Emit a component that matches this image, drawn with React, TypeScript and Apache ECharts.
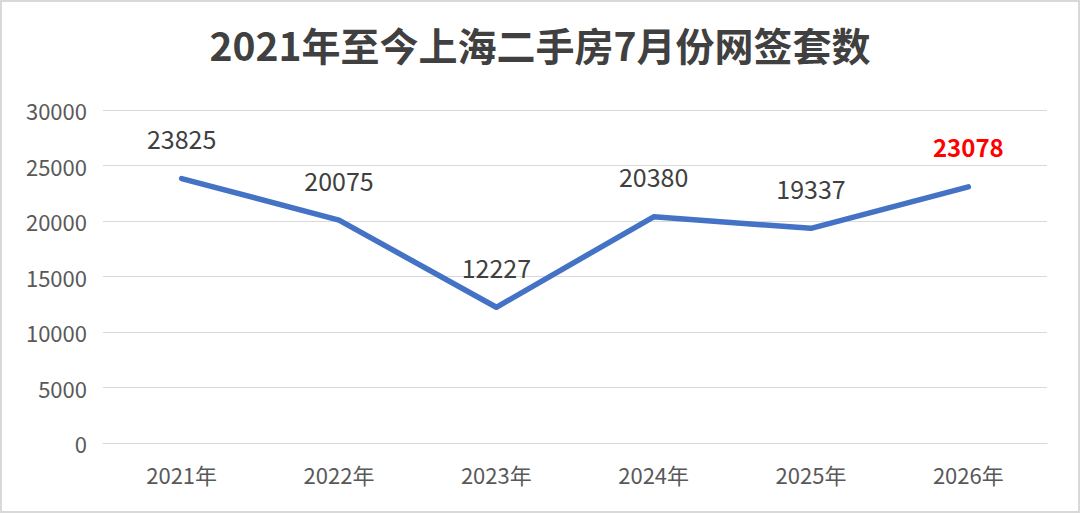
import React, { useEffect, useRef } from "react";
import * as echarts from "echarts";

const title = "2021年至今上海二手房7月份网签套数";
const categories = ["2021年", "2022年", "2023年", "2024年", "2025年", "2026年"];
const values = [23825, 20075, 12227, 20380, 19337, 23078];
const yTicks = { min: 0, max: 30000, interval: 5000 };

const FONT = "'Noto Sans CJK SC', 'Noto Sans', sans-serif";

export default function App() {
  const ref = useRef<HTMLDivElement>(null);
  useEffect(() => {
    document.body.style.margin = "0";
    const chart = echarts.init(ref.current!, null, { renderer: "svg" });
    const lastIdx = values.length - 1;
    chart.setOption({
      animation: false,
      backgroundColor: "#ffffff",
      textStyle: { fontFamily: FONT },
      title: {
        text: title,
        left: "center",
        top: 19,
        textStyle: { fontSize: 39, fontWeight: "bold", color: "#404040", fontFamily: FONT },
      },
      graphic: [
        {
          type: "rect",
          shape: { x: 1, y: 1, width: 1078, height: 511 },
          style: { fill: "none", stroke: "#d9d9d9", lineWidth: 2 },
          silent: true,
        },
      ],
      grid: { left: 103, right: 33, top: 110, bottom: 70 },
      xAxis: {
        type: "category",
        data: categories,
        boundaryGap: true,
        axisLine: { show: true, lineStyle: { color: "#d9d9d9", width: 1 } },
        axisTick: { show: false },
        axisLabel: { fontSize: 22, color: "#595959", margin: 20, fontFamily: FONT },
      },
      yAxis: {
        type: "value",
        min: yTicks.min,
        max: yTicks.max,
        interval: yTicks.interval,
        axisLine: { show: false },
        axisTick: { show: false },
        splitLine: { lineStyle: { color: "#d9d9d9", width: 1 } },
        axisLabel: {
          fontSize: 22,
          color: "#595959",
          margin: 16,
          fontFamily: FONT,
          formatter: (v: number) => String(v),
        },
      },
      series: [
        {
          type: "line",
          data: values.map((v, i) =>
            i === lastIdx
              ? {
                  value: v,
                  label: { color: "#ff0000", fontWeight: "bold", fontSize: 24 },
                }
              : v
          ),
          symbol: "circle",
          symbolSize: 2,
          showSymbol: true,
          itemStyle: { color: "#4472C4" },
          lineStyle: { color: "#4472C4", width: 5.5, cap: "round", join: "round" },
          label: {
            show: true,
            position: "top",
            distance: 27,
            fontSize: 25,
            color: "#404040",
            fontFamily: FONT,
          },
        },
      ],
    });
    return () => chart.dispose();
  }, []);
  return (
    <div
      ref={ref}
      style={{ position: "absolute", left: 0, top: 0, width: 1080, height: 513 }}
    />
  );
}
